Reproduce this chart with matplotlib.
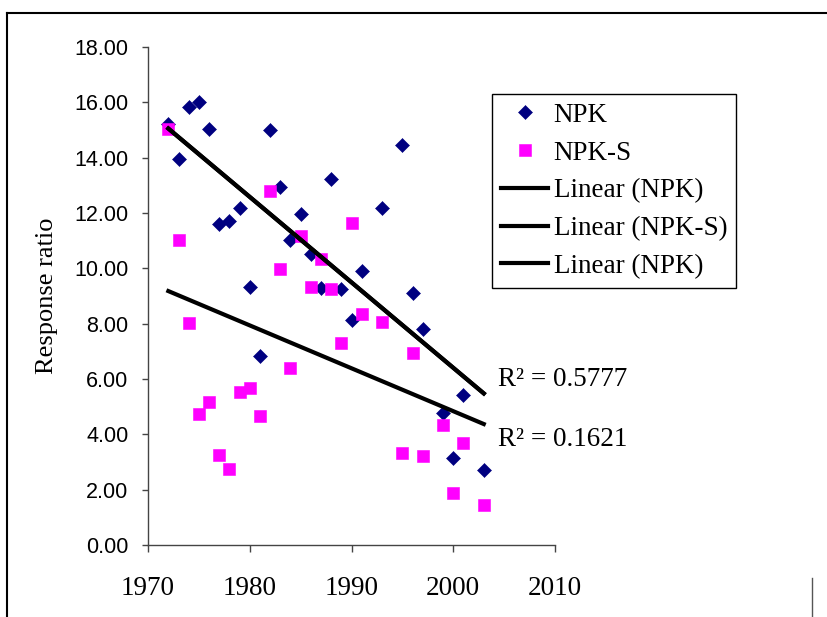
import numpy as np
import matplotlib
matplotlib.use('Agg')
import matplotlib.pyplot as plt
from matplotlib.lines import Line2D

# Data
years = [1972, 1973, 1974, 1975, 1976, 1977, 1978, 1979, 1980, 1981, 1982, 1983, 1984, 1985,
         1986, 1987, 1988, 1989, 1990, 1991, 1993, 1995, 1996, 1997, 1999, 2000, 2001, 2003]
npk = [15.2, 13.95, 15.82, 16.0, 15.04, 11.62, 11.72, 12.18, 9.33, 6.83, 15.0, 12.95, 11.03, 11.95,
       10.53, 9.3, 13.23, 9.25, 8.14, 9.9, 12.18, 14.47, 9.12, 7.81, 4.77, 3.13, 5.41, 2.7]
npk_s = [15.05, 11.03, 8.04, 4.74, 5.18, 3.26, 2.75, 5.52, 5.69, 4.67, 12.78, 9.96, 6.39, 11.17,
         9.32, 10.34, 9.25, 7.30, 11.64, 8.34, 8.05, 3.31, 6.93, 3.23, 4.34, 1.88, 3.67, 1.45]
r2_labels = ['R² = 0.5777', 'R² = 0.1621']
y_ticks = np.arange(0, 18.01, 2)
x_ticks = [1970, 1980, 1990, 2000, 2010]

serif = 'Liberation Serif'
sans = 'Liberation Sans'

fig = plt.figure(figsize=(8.27, 6.17), dpi=100)
ax = fig.add_axes([148 / 827, 1 - 545 / 617, (555 - 148) / 827, (545 - 47) / 617])

x = np.array(years)
ax.plot(x, npk, 'D', color='#000080', markersize=7.3, markeredgewidth=0.4, label='NPK', zorder=3)
ax.plot(x, npk_s, 's', color='#FF00FF', markersize=9, markeredgewidth=0.4, label='NPK-S', zorder=3)

# linear trend lines
xs = np.array([x.min(), x.max()])
p1 = np.polyfit(x, npk, 1)
p2 = np.polyfit(x, npk_s, 1)
ax.plot(xs, np.polyval(p1, xs), color='black', lw=3, label='Linear (NPK)', zorder=4)
ax.plot(xs, np.polyval(p2, xs), color='black', lw=3, label='Linear (NPK-S)', zorder=4)
ax.plot(xs, np.polyval(p1, xs), color='black', lw=3, label='Linear (NPK)', zorder=4)

ax.text(2004.4, 6.0, r2_labels[0], family=serif, fontsize=19.5, va='center', ha='left')
ax.text(2004.4, 3.83, r2_labels[1], family=serif, fontsize=19.5, va='center', ha='left')

ax.set_xlim(1970, 2010)
ax.set_ylim(0, 18)
ax.set_xticks(x_ticks)
ax.set_yticks(y_ticks)
ax.set_yticklabels(['%.2f' % v for v in y_ticks], family=sans, fontsize=15.5)
ax.set_xticklabels([str(v) for v in x_ticks], family=serif, fontsize=19.5)
ax.tick_params(axis='y', direction='out', length=4, width=1, color='#444444', pad=10)
ax.tick_params(axis='x', direction='out', length=5, width=1, color='#444444', pad=17)
for s in ['top', 'right']:
    ax.spines[s].set_visible(False)
for s in ['left', 'bottom']:
    ax.spines[s].set_color('#444444')
    ax.spines[s].set_linewidth(1)

fig.text(47 / 827, 1 - 296 / 617, 'Response ratio', family=serif, fontsize=19,
         rotation=90, ha='center', va='center')

leg = ax.legend(loc='upper left', bbox_to_anchor=(492 / 827, 1 - 94 / 617),
                bbox_transform=fig.transFigure, prop={'family': serif, 'size': 19.5},
                frameon=True, fancybox=False, edgecolor='black', framealpha=1,
                handlelength=1.75, handletextpad=0.2, labelspacing=0.47, borderpad=0.33,
                borderaxespad=0)
leg.get_frame().set_linewidth(1)

# outer frame lines
fig.add_artist(Line2D([7 / 827, 1], [1 - 13 / 617, 1 - 13 / 617], transform=fig.transFigure,
                      color='black', lw=1.5))
fig.add_artist(Line2D([7 / 827, 7 / 827], [0, 1 - 13 / 617], transform=fig.transFigure,
                      color='black', lw=1.5))
fig.add_artist(Line2D([812 / 827, 812 / 827], [0, 1 - 578 / 617], transform=fig.transFigure,
                      color='#555555', lw=1))

fig.savefig('out.png', dpi=100)
